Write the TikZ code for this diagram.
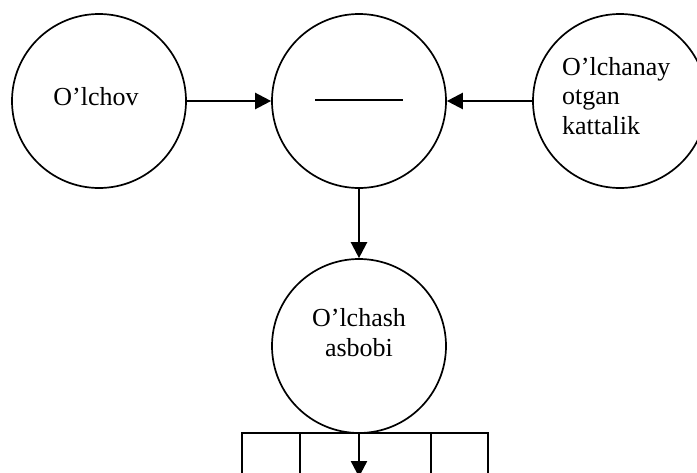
\documentclass[tikz,border=0pt]{standalone}
\usepackage{fontspec}
\setmainfont{Liberation Serif}
\usetikzlibrary{arrows.meta}
\begin{document}
\begin{tikzpicture}[x=1pt,y=-1pt,
  circ/.style={draw,circle,line width=1.7pt,minimum size=174pt,inner sep=0pt},
  txt/.style={font=\fontsize{26}{29.5}\selectfont,inner sep=0pt},
  arr/.style={line width=2.4pt,-{Triangle[length=16pt,width=16pt]}},
  boxline/.style={line width=1.7pt}]
\useasboundingbox (0,0) rectangle (697,472);
\clip (0,0) rectangle (697,472);
\node[circ] (meas) at (99,101) {};
\node[circ] (cmp) at (359,101) {};
\node[circ] (qty) at (620,101) {};
\node[circ] (inst) at (359,346) {};
\node[txt,anchor=base] (measT) at (96,105) {O’lchov};
\node[txt,anchor=base west,align=left] (qtyT) at (562,134) {O’lchanay\\otgan\\kattalik};
\node[txt,anchor=base,align=center] (instT) at (359,356) {O’lchash\\asbobi};
\coordinate (ml) at (315,100);
\coordinate (mr) at (403,100);
\draw[line width=1.7pt] (ml) -- (mr);
\draw[arr] (meas) -- (cmp);
\draw[arr] (qty) -- (cmp);
\draw[arr] (cmp) -- (inst);
\coordinate (b1) at (242,433);
\coordinate (b2) at (488,433);
\coordinate (b1d) at (242,480);
\coordinate (b2d) at (488,480);
\coordinate (d1) at (300,433);
\coordinate (d1d) at (300,480);
\coordinate (d2) at (431,433);
\coordinate (d2d) at (431,480);
\draw[boxline] (b1d) -- (b1) -- (b2) -- (b2d);
\draw[boxline] (d1) -- (d1d);
\draw[boxline] (d2) -- (d2d);
\coordinate (out) at (359,477);
\draw[arr] (inst) -- (out);
\end{tikzpicture}
\end{document}
